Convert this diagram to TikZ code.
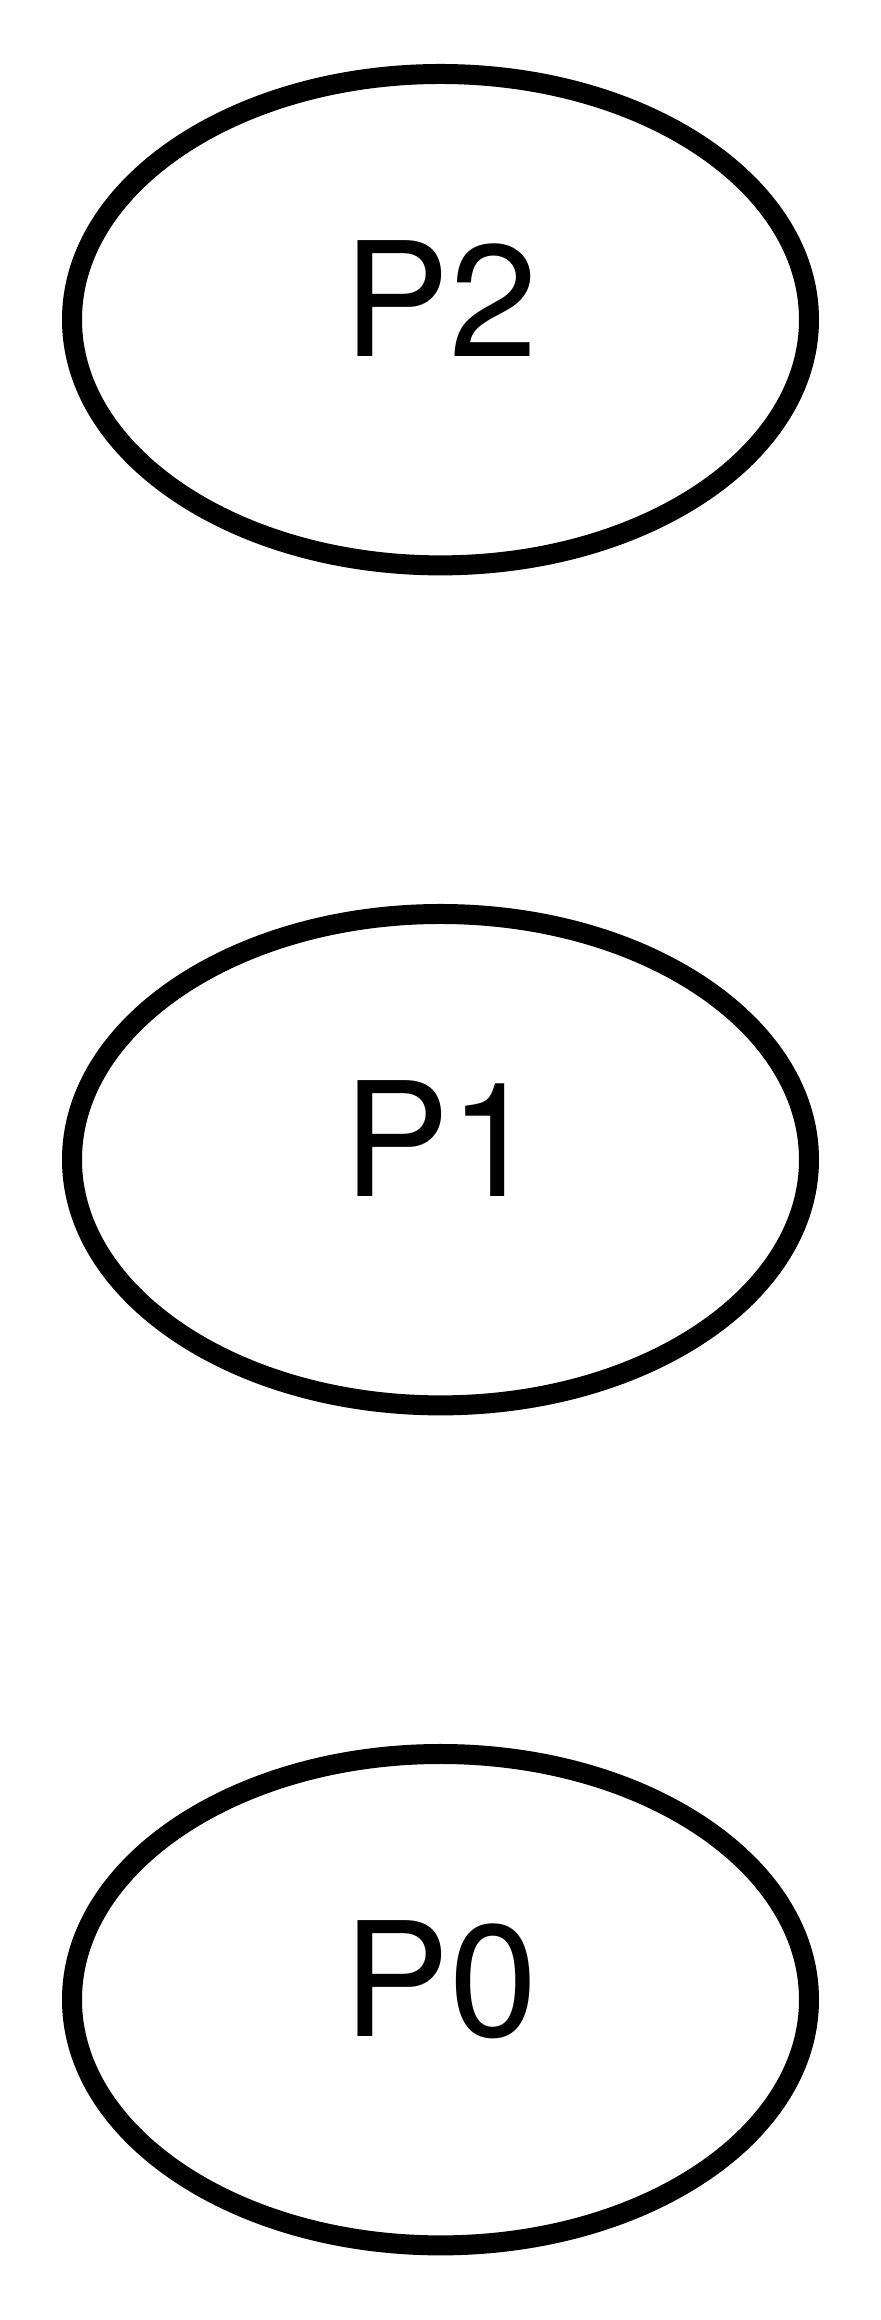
\documentclass[tikz,border=0pt]{standalone}
\usepackage{fontspec}
\setmainfont{TeX Gyre Heros}
\usetikzlibrary{shapes.geometric}
\begin{document}
\begin{tikzpicture}[x=0.5pt,y=0.5pt,
  stateell/.style={ellipse,draw=black,line width=10pt,inner sep=0pt,
    minimum width=368.5pt,minimum height=245.7pt},
  statelbl/.style={anchor=base,inner sep=0pt,font=\fontsize{79.5pt}{90pt}\selectfont}]
\useasboundingbox[fill=white] (0,0) rectangle (880,2320);
\node[stateell] (P2) at (440.5,2000.3) {};
\node[stateell] (P1) at (440.5,1160.3) {};
\node[stateell] (P0) at (440.5,320.3) {};
\node[statelbl] (P2t) at ([yshift=-18.35pt]P2.center) {P2};
\node[statelbl] (P1t) at ([yshift=-18.35pt]P1.center) {P1};
\node[statelbl] (P0t) at ([yshift=-18.35pt]P0.center) {P0};
\end{tikzpicture}
\end{document}
